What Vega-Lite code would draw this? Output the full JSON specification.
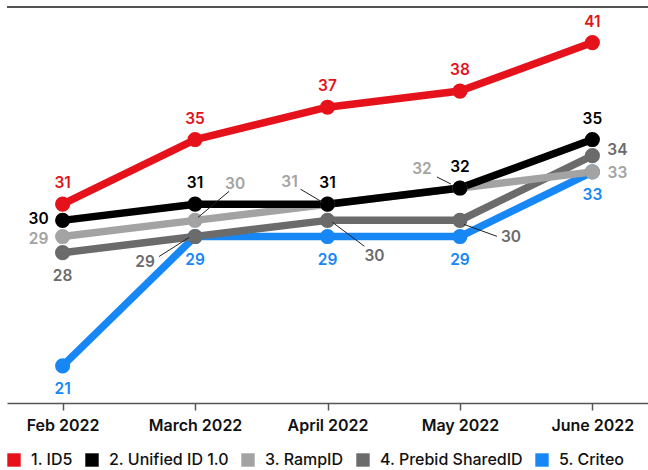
{
  "$schema": "https://vega.github.io/schema/vega-lite/v6.json",
  "width": 641,
  "height": 396,
  "autosize": {"type": "none"},
  "padding": {"left": 7, "top": 7, "right": 0, "bottom": 67},
  "background": "white",
  "config": {
    "view": {"stroke": null},
    "font": "Inter",
    "axis": {"grid": false},
    "text": {"fontSize": 15.5, "fontWeight": 600, "baseline": "middle"}
  },
  "data": {
    "values": [
      {"tracker": "5. Criteo", "month": "Feb 2022", "share": 21},
      {"tracker": "5. Criteo", "month": "March 2022", "share": 29},
      {"tracker": "5. Criteo", "month": "April 2022", "share": 29},
      {"tracker": "5. Criteo", "month": "May 2022", "share": 29},
      {"tracker": "5. Criteo", "month": "June 2022", "share": 33},
      {"tracker": "4. Prebid SharedID", "month": "Feb 2022", "share": 28},
      {"tracker": "4. Prebid SharedID", "month": "March 2022", "share": 29},
      {"tracker": "4. Prebid SharedID", "month": "April 2022", "share": 30},
      {"tracker": "4. Prebid SharedID", "month": "May 2022", "share": 30},
      {"tracker": "4. Prebid SharedID", "month": "June 2022", "share": 34},
      {"tracker": "3. RampID", "month": "Feb 2022", "share": 29},
      {"tracker": "3. RampID", "month": "March 2022", "share": 30},
      {"tracker": "3. RampID", "month": "April 2022", "share": 31},
      {"tracker": "3. RampID", "month": "May 2022", "share": 32},
      {"tracker": "3. RampID", "month": "June 2022", "share": 33},
      {"tracker": "2. Unified ID 1.0", "month": "Feb 2022", "share": 30},
      {"tracker": "2. Unified ID 1.0", "month": "March 2022", "share": 31},
      {"tracker": "2. Unified ID 1.0", "month": "April 2022", "share": 31},
      {"tracker": "2. Unified ID 1.0", "month": "May 2022", "share": 32},
      {"tracker": "2. Unified ID 1.0", "month": "June 2022", "share": 35},
      {"tracker": "1. ID5", "month": "Feb 2022", "share": 31},
      {"tracker": "1. ID5", "month": "March 2022", "share": 35},
      {"tracker": "1. ID5", "month": "April 2022", "share": 37},
      {"tracker": "1. ID5", "month": "May 2022", "share": 38},
      {"tracker": "1. ID5", "month": "June 2022", "share": 41}
    ]
  },
  "layer": [
    {
      "mark": {"type": "rule", "color": "#555555", "strokeWidth": 1.5},
      "encoding": {
        "y": {"datum": 43.2, "type": "quantitative", "scale": {"domain": [18.7, 43.2], "nice": false, "zero": false}, "axis": null}
      }
    },
    {
      "encoding": {
        "x": {
          "field": "month",
          "type": "ordinal",
          "sort": ["Feb 2022", "March 2022", "April 2022", "May 2022", "June 2022"],
          "scale": {"type": "point", "padding": 0.42},
          "axis": {
            "title": null,
            "domainColor": "#555555",
            "domainWidth": 1.5,
            "tickColor": "#555555",
            "tickWidth": 1.5,
            "tickSize": 7,
            "labelFont": "Inter",
            "labelFontSize": 16,
            "labelFontWeight": 600,
            "labelColor": "#111111",
            "labelPadding": 7,
            "labelAngle": 0
          }
        },
        "y": {
          "field": "share",
          "type": "quantitative",
          "scale": {"domain": [18.7, 43.2], "nice": false, "zero": false},
          "axis": null
        },
        "color": {
          "field": "tracker",
          "type": "nominal",
          "scale": {
            "domain": ["1. ID5", "2. Unified ID 1.0", "3. RampID", "4. Prebid SharedID", "5. Criteo"],
            "range": ["#e5121b", "#000000", "#a3a3a3", "#6b6b6b", "#1787f5"]
          },
          "legend": {
            "title": null,
            "orient": "none",
            "legendX": -1,
            "legendY": 445,
            "direction": "horizontal",
            "columns": 5,
            "padding": 0,
            "symbolType": "square",
            "symbolSize": 180,
            "symbolStrokeWidth": 0,
            "labelFont": "Inter",
            "labelFontSize": 16,
            "labelFontWeight": 500,
            "labelColor": "#111111",
            "labelOffset": 9,
            "columnPadding": 11
          }
        }
      },
      "layer": [
        {"mark": {"type": "line", "strokeWidth": 7.5, "strokeCap": "round", "strokeJoin": "round"}},
        {"mark": {"type": "point", "shape": "circle", "filled": true, "size": 230, "opacity": 1}},
        {
          "transform": [{"filter": "datum.tracker == '1. ID5' || (datum.tracker == '2. Unified ID 1.0' && datum.month != 'Feb 2022')"}],
          "mark": {"type": "text", "dy": -21},
          "encoding": {"text": {"field": "share"}}
        },
        {
          "transform": [{"filter": "datum.month == 'Feb 2022' && datum.tracker == '2. Unified ID 1.0'"}],
          "mark": {"type": "text", "dx": -24, "dy": -1},
          "encoding": {"text": {"field": "share"}}
        },
        {
          "transform": [{"filter": "datum.month == 'Feb 2022' && datum.tracker == '3. RampID'"}],
          "mark": {"type": "text", "dx": -24, "dy": 2},
          "encoding": {"text": {"field": "share"}}
        },
        {
          "transform": [{"filter": "datum.tracker == '5. Criteo' || (datum.tracker == '4. Prebid SharedID' && datum.month == 'Feb 2022')"}],
          "mark": {"type": "text", "dy": 23},
          "encoding": {"text": {"field": "share"}}
        },
        {
          "transform": [{"filter": "datum.tracker == '3. RampID' && datum.month == 'June 2022'"}],
          "mark": {"type": "text", "dx": 25, "dy": 1},
          "encoding": {"text": {"field": "share"}}
        },
        {
          "transform": [{"filter": "datum.tracker == '4. Prebid SharedID' && datum.month == 'June 2022'"}],
          "mark": {"type": "text", "dx": 25, "dy": -6},
          "encoding": {"text": {"field": "share"}}
        },
        {
          "transform": [{"filter": "datum.tracker == '3. RampID' && datum.month == 'March 2022'"}],
          "mark": {"type": "text", "dx": 40, "dy": -36},
          "encoding": {"text": {"field": "share"}}
        },
        {
          "transform": [{"filter": "datum.tracker == '3. RampID' && datum.month == 'March 2022'"}],
          "mark": {"type": "rule", "strokeWidth": 1, "xOffset": 3, "yOffset": -3, "x2Offset": 34, "y2Offset": -29},
          "encoding": {"x2": {"field": "month"}, "y2": {"field": "share"}, "color": {"value": "#222222"}}
        },
        {
          "transform": [{"filter": "datum.tracker == '3. RampID' && datum.month == 'April 2022'"}],
          "mark": {"type": "text", "dx": -38, "dy": -22},
          "encoding": {"text": {"field": "share"}}
        },
        {
          "transform": [{"filter": "datum.tracker == '3. RampID' && datum.month == 'April 2022'"}],
          "mark": {"type": "rule", "strokeWidth": 1, "xOffset": -27, "yOffset": -15, "x2Offset": -5, "y2Offset": -2},
          "encoding": {"x2": {"field": "month"}, "y2": {"field": "share"}, "color": {"value": "#222222"}}
        },
        {
          "transform": [{"filter": "datum.tracker == '3. RampID' && datum.month == 'May 2022'"}],
          "mark": {"type": "text", "dx": -38, "dy": -19},
          "encoding": {"text": {"field": "share"}}
        },
        {
          "transform": [{"filter": "datum.tracker == '3. RampID' && datum.month == 'May 2022'"}],
          "mark": {"type": "rule", "strokeWidth": 1, "xOffset": -23, "yOffset": -11, "x2Offset": -9, "y2Offset": -4},
          "encoding": {"x2": {"field": "month"}, "y2": {"field": "share"}, "color": {"value": "#222222"}}
        },
        {
          "transform": [{"filter": "datum.tracker == '4. Prebid SharedID' && datum.month == 'March 2022'"}],
          "mark": {"type": "text", "dx": -50, "dy": 25},
          "encoding": {"text": {"field": "share"}}
        },
        {
          "transform": [{"filter": "datum.tracker == '4. Prebid SharedID' && datum.month == 'March 2022'"}],
          "mark": {"type": "rule", "strokeWidth": 1, "xOffset": -36, "yOffset": 20, "x2Offset": -6, "y2Offset": 1},
          "encoding": {"x2": {"field": "month"}, "y2": {"field": "share"}, "color": {"value": "#222222"}}
        },
        {
          "transform": [{"filter": "datum.tracker == '4. Prebid SharedID' && datum.month == 'April 2022'"}],
          "mark": {"type": "text", "dx": 47, "dy": 36},
          "encoding": {"text": {"field": "share"}}
        },
        {
          "transform": [{"filter": "datum.tracker == '4. Prebid SharedID' && datum.month == 'April 2022'"}],
          "mark": {"type": "rule", "strokeWidth": 1, "xOffset": 5, "yOffset": 2, "x2Offset": 37, "y2Offset": 26},
          "encoding": {"x2": {"field": "month"}, "y2": {"field": "share"}, "color": {"value": "#222222"}}
        },
        {
          "transform": [{"filter": "datum.tracker == '4. Prebid SharedID' && datum.month == 'May 2022'"}],
          "mark": {"type": "text", "dx": 51, "dy": 17},
          "encoding": {"text": {"field": "share"}}
        },
        {
          "transform": [{"filter": "datum.tracker == '4. Prebid SharedID' && datum.month == 'May 2022'"}],
          "mark": {"type": "rule", "strokeWidth": 1, "xOffset": 4, "yOffset": 4, "x2Offset": 37, "y2Offset": 16},
          "encoding": {"x2": {"field": "month"}, "y2": {"field": "share"}, "color": {"value": "#222222"}}
        }
      ]
    }
  ]
}
